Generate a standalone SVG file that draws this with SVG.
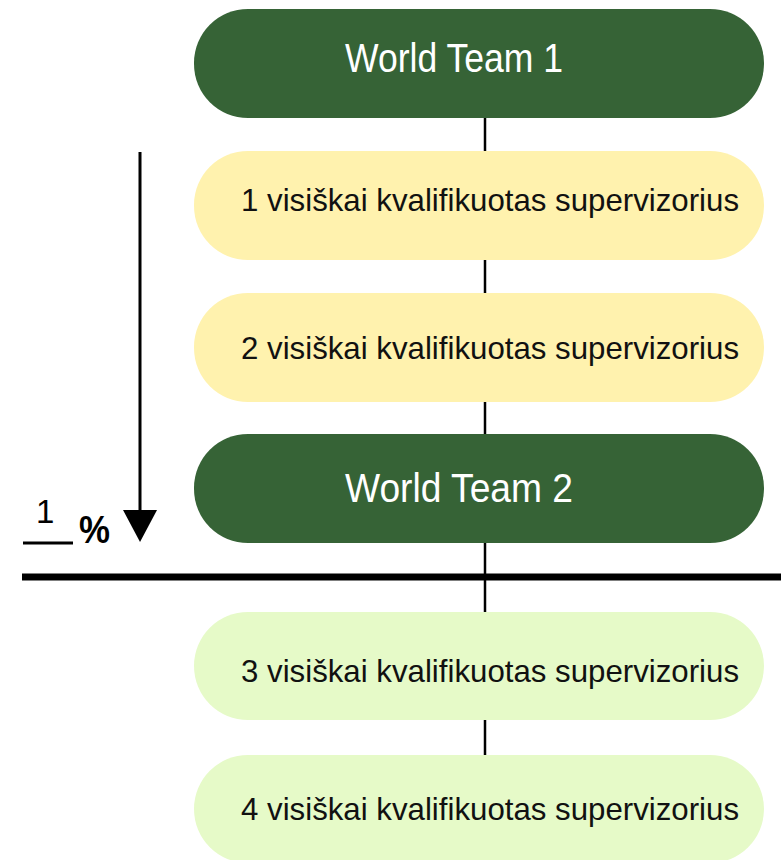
<svg xmlns="http://www.w3.org/2000/svg" width="781" height="860" viewBox="0 0 781 860">
<style>
.dark{fill:#366336}
.yel{fill:#FFF2AE}
.lg{fill:#E6FAC8}
.wt{font-family:"Liberation Sans",Arial,sans-serif;font-size:40px;fill:#ffffff}
.sv{font-family:"Liberation Sans",Arial,sans-serif;font-size:32px;fill:#111111}
.conn{stroke:#000;stroke-width:2.5;fill:none}
</style>
<rect width="781" height="860" fill="#ffffff"/>
<g id="connectors">
<line class="conn" x1="485" y1="118" x2="485" y2="152"/>
<line class="conn" x1="485" y1="260" x2="485" y2="293"/>
<line class="conn" x1="485" y1="402" x2="485" y2="434"/>
<line class="conn" x1="485" y1="543" x2="485" y2="612"/>
<line class="conn" x1="485" y1="720" x2="485" y2="755"/>
</g>
<g id="divider">
<line x1="22" y1="577" x2="781" y2="577" stroke="#000" stroke-width="7"/>
</g>
<g id="arrow">
<line x1="140" y1="152" x2="140" y2="512" stroke="#000" stroke-width="3"/>
<polygon points="123,510 157,510 140,542" fill="#000"/>
</g>
<g id="percent">
<text x="36" y="523" font-family="Liberation Sans,Arial,sans-serif" font-size="33" fill="#000">1</text>
<line x1="23" y1="543" x2="73" y2="543" stroke="#000" stroke-width="3"/>
<text x="79" y="543" font-family="Liberation Sans,Arial,sans-serif" font-size="38" font-weight="bold" fill="#000" textLength="31" lengthAdjust="spacingAndGlyphs">%</text>
</g>
<g id="wt1">
<rect class="dark" x="194" y="9" width="570" height="109" rx="54"/>
<text class="wt" x="345" y="72" textLength="218" lengthAdjust="spacingAndGlyphs">World Team 1</text>
</g>
<g id="s1">
<rect class="yel" x="194" y="151" width="570" height="109" rx="54"/>
<text class="sv" x="241" y="211" textLength="498" lengthAdjust="spacingAndGlyphs">1 visiškai kvalifikuotas supervizorius</text>
</g>
<g id="s2">
<rect class="yel" x="194" y="293" width="570" height="109" rx="54"/>
<text class="sv" x="241" y="359" textLength="498" lengthAdjust="spacingAndGlyphs">2 visiškai kvalifikuotas supervizorius</text>
</g>
<g id="wt2">
<rect class="dark" x="194" y="434" width="570" height="109" rx="54"/>
<text class="wt" x="345" y="502" textLength="228" lengthAdjust="spacingAndGlyphs">World Team 2</text>
</g>
<g id="s3">
<rect class="lg" x="194" y="612" width="570" height="108" rx="54"/>
<text class="sv" x="241" y="682" textLength="498" lengthAdjust="spacingAndGlyphs">3 visiškai kvalifikuotas supervizorius</text>
</g>
<g id="s4">
<rect class="lg" x="194" y="755" width="570" height="108" rx="54"/>
<text class="sv" x="241" y="820" textLength="498" lengthAdjust="spacingAndGlyphs">4 visiškai kvalifikuotas supervizorius</text>
</g>
</svg>
